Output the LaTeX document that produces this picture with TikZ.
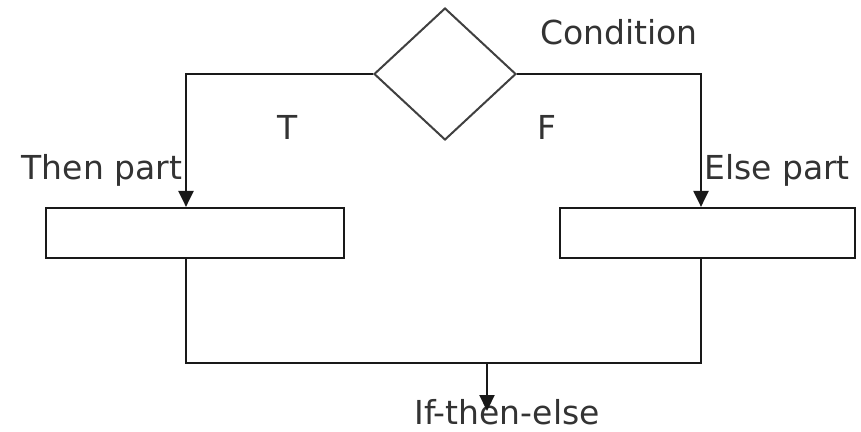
\documentclass[tikz,border=0pt]{standalone}
\usepackage{fontspec}
\setmainfont{DejaVu Sans}
\usetikzlibrary{shapes.geometric,arrows.meta}

\begin{document}
\begin{tikzpicture}[x=1pt,y=-1pt,
  line width=2pt,
  flow/.style={draw=black!90, line width=2.2pt},
  decision/.style={diamond, draw=black!75, line width=2pt, fill=white,
    minimum width=142pt, minimum height=132pt, inner sep=0pt},
  block/.style={rectangle, draw=black!90, line width=2.2pt, fill=white,
    minimum width=298pt, minimum height=50pt, inner sep=0pt},
  label/.style={text=black!80, inner sep=0pt,
    font=\fontsize{33}{37}\selectfont},
  tip/.style={-{Triangle[width=15pt,length=16pt]}}]

  \useasboundingbox (0,0) rectangle (861,431);

  % decision and the two branch blocks
  \node[decision] (cond) at (445,74) {};
  \node[block] (thenbox) at (195,233) {};
  \node[block, minimum width=295pt] (elsebox) at (707.5,233) {};

  % columns along which the branches run
  \coordinate (tcol) at (186,0);
  \coordinate (ecol) at (701,0);
  \coordinate (join) at (487,363);
  \coordinate (out) at (487,411);

  % labels
  \node[label] (condtxt) at (619,32) {Condition};
  \node[label] (ttxt) at (288,127) {T};
  \node[label] (ftxt) at (547,127) {F};
  \node[label] (thentxt) at (102,170) {Then part};
  \node[label] (elsetxt) at (777,170) {Else part};
  \node[label] (result) at (507,412) {If-then-else};

  % branches
  \draw[flow, tip] (cond.west) -| (thenbox.north -| tcol);
  \draw[flow, tip] (cond.east) -| (elsebox.north -| ecol);

  % merge below the blocks
  \draw[flow] (thenbox.south -| tcol) -- (tcol |- join) -- (ecol |- join)
    -- (elsebox.south -| ecol);
  \draw[flow, tip] (join) -- (out);
\end{tikzpicture}
\end{document}
